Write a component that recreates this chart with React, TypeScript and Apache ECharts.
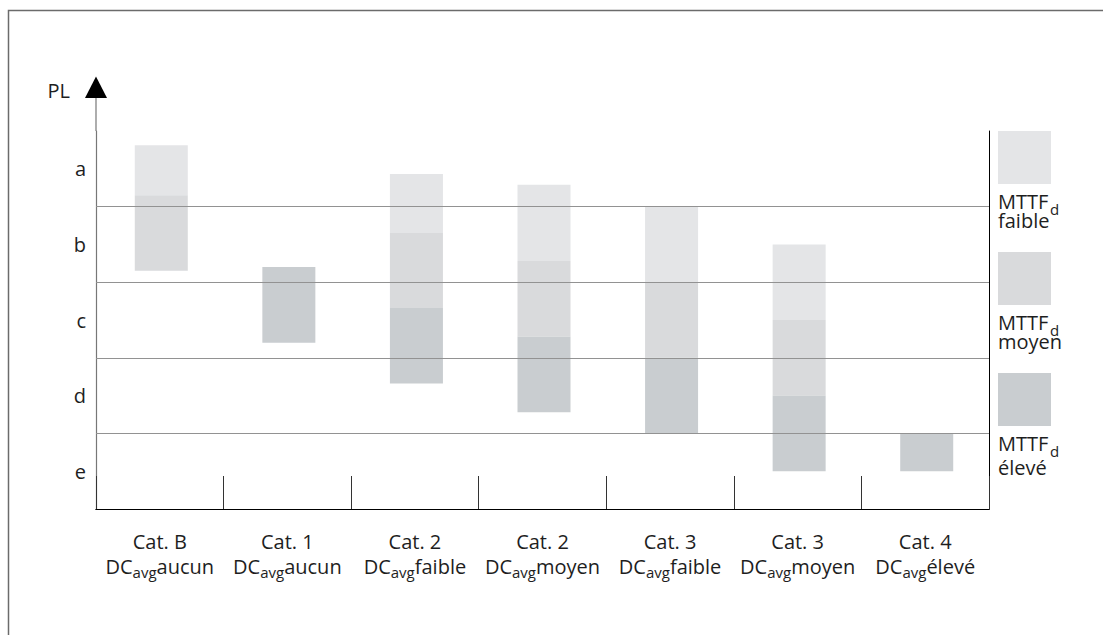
import React, { useEffect, useRef } from "react";
import * as echarts from "echarts";

// ---- data ----
const categories = ["Cat. B", "Cat. 1", "Cat. 2", "Cat. 2", "Cat. 3", "Cat. 3", "Cat. 4"];
const dcLevels = ["aucun", "aucun", "faible", "moyen", "faible", "moyen", "élevé"];
const plLabels = ["e", "d", "c", "b", "a"];
const plBoundaries = [1, 2, 3, 4];
const mttfNames = ["faible", "moyen", "élevé"];
const mttfColors = ["#e4e5e7", "#d9dadc", "#c9cdd0"];
// [categoryIndex, low PL value, high PL value]  (e = 0..1, d = 1..2, ..., a = 4..5)
const faibleSegments = [
  [0, 4.15, 4.81],
  [2, 3.65, 4.43],
  [3, 3.28, 4.29],
  [4, 3.0, 4.0],
  [5, 2.5, 3.5],
];
const moyenSegments = [
  [0, 3.15, 4.15],
  [2, 2.66, 3.65],
  [3, 2.28, 3.28],
  [4, 2.0, 3.0],
  [5, 1.5, 2.5],
];
const eleveSegments = [
  [1, 2.2, 3.2],
  [2, 1.66, 2.66],
  [3, 1.28, 2.28],
  [4, 1.0, 2.0],
  [5, 0.5, 1.5],
  [6, 0.5, 1.0],
];
const segmentSets = [faibleSegments, moyenSegments, eleveSegments];

const FONT = "'Open Sans', sans-serif";
const TEXT = "#1e1e1e";
const BAR_RATIO = 0.4155;

export default function App() {
  const ref = useRef<HTMLDivElement>(null);

  useEffect(() => {
    if (!ref.current) return;
    const chart = echarts.init(ref.current, undefined, { renderer: "svg" });

    const makeSeries = (data: number[][], idx: number) => ({
      type: "custom",
      name: mttfNames[idx],
      xAxisIndex: 0,
      yAxisIndex: 0,
      z: 2,
      encode: { x: 0, y: [1, 2] },
      data,
      renderItem: (params: any, api: any) => {
        const c = api.value(0);
        const top = api.coord([c, api.value(2)]);
        const bot = api.coord([c, api.value(1)]);
        const w = api.size([1, 0])[0] * BAR_RATIO;
        return {
          type: "rect",
          shape: { x: top[0] - w / 2 + 1.5, y: top[1], width: w, height: bot[1] - top[1] },
          style: { fill: mttfColors[idx] },
        };
      },
      ...(idx === 2
        ? {
            markLine: {
              silent: true,
              symbol: ["none", "none"],
              label: { show: false },
              lineStyle: { color: "#929292", width: 1, type: "solid" },
              data: plBoundaries.map((v) => ({ yAxis: v })),
            },
          }
        : {}),
    });

    const legendGraphics: any[] = [];
    const legendTops = [131, 252, 373];
    const nameOffsets = [19, 19, 24];
    mttfNames.forEach((name, i) => {
      const t = legendTops[i];
      legendGraphics.push({
        type: "rect",
        shape: { x: 998, y: t, width: 53, height: 53 },
        style: { fill: mttfColors[i] },
      });
      legendGraphics.push({
        type: "text",
        x: 998,
        y: t + 70,
        style: {
          text: "MTTF",
          fontFamily: FONT,
          fontSize: 20,
          fill: TEXT,
          align: "left",
          verticalAlign: "middle",
        },
      });
      legendGraphics.push({
        type: "text",
        x: 1050,
        y: t + 78,
        style: {
          text: "d",
          fontFamily: FONT,
          fontSize: 15,
          fill: TEXT,
          align: "left",
          verticalAlign: "middle",
        },
      });
      legendGraphics.push({
        type: "text",
        x: 998,
        y: t + 77 + nameOffsets[i] - 7,
        style: {
          text: name,
          fontFamily: FONT,
          fontSize: 20,
          fill: TEXT,
          align: "left",
          verticalAlign: "middle",
        },
      });
    });

    const option: any = {
      animation: false,
      grid: { left: 96, right: 114, top: 131, bottom: 126, show: false },
      xAxis: [
        {
          type: "category",
          data: categories,
          position: "bottom",
          boundaryGap: true,
          axisLine: { show: true, lineStyle: { color: "#000", width: 1 } },
          axisTick: { show: true, inside: true, length: 33, interval: 0, lineStyle: { color: "#333", width: 1 } },
          axisLabel: {
            interval: 0,
            margin: 20,
            formatter: (v: string, i: number) => `{n|${v}}\n{n|DC}{s|avg}{n|${dcLevels[i]}}`,
            rich: {
              n: { fontFamily: FONT, fontSize: 20, lineHeight: 25, color: TEXT },
              s: { fontFamily: FONT, fontSize: 15, lineHeight: 25, color: TEXT, verticalAlign: "bottom" },
            },
          },
          splitLine: { show: false },
        },
        {
          type: "category",
          data: categories,
          position: "top",
          axisLine: { show: true, lineStyle: { color: "#000", width: 1 } },
          axisTick: { show: false },
          axisLabel: { show: false },
          splitLine: { show: false },
        },
      ],
      yAxis: [
        {
          type: "value",
          min: 0,
          max: 5,
          interval: 1,
          position: "left",
          axisLine: { show: true, lineStyle: { color: "#777", width: 1.2 } },
          axisTick: { show: false },
          axisLabel: { show: false },
          splitLine: { show: false },
        },
        {
          type: "category",
          data: plLabels,
          position: "left",
          boundaryGap: true,
          axisLine: { show: false },
          axisTick: { show: false },
          axisLabel: { margin: 10, fontFamily: FONT, fontSize: 20, color: TEXT, padding: [0, 0, 5, 0] },
          splitLine: { show: false },
        },
        {
          type: "value",
          min: 0,
          max: 5,
          interval: 1,
          position: "right",
          axisLine: { show: true, lineStyle: { color: "#000", width: 1 } },
          axisTick: { show: false },
          axisLabel: { show: false },
          splitLine: { show: false },
        },
      ],
      graphic: [
        {
          type: "rect",
          shape: { x: 8.5, y: 10.5, width: 1200, height: 700 },
          style: { fill: "none", stroke: "#6b6b6b", lineWidth: 1.5 },
          silent: true,
        },
        {
          type: "line",
          shape: { x1: 96, y1: 96, x2: 96, y2: 131 },
          style: { stroke: "#777", lineWidth: 1.2 },
        },
        {
          type: "polygon",
          shape: { points: [[96, 76.5], [85, 98], [107, 98]] },
          style: { fill: "#000" },
        },
        {
          type: "text",
          x: 70,
          y: 90,
          style: { text: "PL", fontFamily: FONT, fontSize: 20, fill: TEXT, align: "right", verticalAlign: "middle" },
        },
        ...legendGraphics,
      ],
      series: segmentSets.map((d, i) => makeSeries(d, i)),
    };

    chart.setOption(option);
    return () => chart.dispose();
  }, []);

  return (
    <div
      ref={ref}
      style={{ position: "fixed", left: 0, top: 0, width: 1103, height: 635, background: "#fff" }}
    />
  );
}
